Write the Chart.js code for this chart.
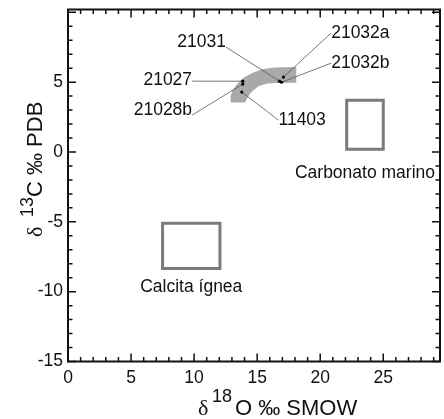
<!DOCTYPE html>
<html>
<head>
<meta charset="utf-8">
<script src="https://cdn.jsdelivr.net/npm/chart.js@4/dist/chart.umd.min.js"></script>
<style>
  html, body { margin: 0; padding: 0; background: #fff; }
  #wrap { width: 444px; height: 419px; }
</style>
</head>
<body>
<div id="wrap"><canvas id="isotopes" width="444" height="419"></canvas></div>
<script>
// samples: d18O (SMOW) on x, d13C (PDB) on y
const sampleNames = ['21031', '21032a', '21032b', '21027', '21028b', '11403'];
const sampleO = [16.77, 17.09, 16.93, 13.86, 13.86, 13.78];
const sampleC = [5.07, 5.36, 4.99, 5.07, 4.86, 4.29];

// where each label's leader line starts
const labelO = [12.52, 20.87, 20.87, 9.84, 9.84, 16.69];
const labelC = [7.51, 8.52, 6.36, 5.07, 2.64, 2.28];

// gray field around the samples (outline)
const fieldO = [12.9, 12.9, 13.05, 13.4, 13.9, 14.6, 15.4, 16.4, 18.1, 18.1, 16.5, 15.8, 15.1, 14.5, 14.2, 14.05];
const fieldC = [3.55, 4.0, 4.4, 4.85, 5.3, 5.65, 5.92, 6.05, 6.08, 4.95, 4.93, 4.9, 4.7, 4.25, 3.85, 3.55];

// reference fields
const boxNames = ['Carbonato marino', 'Calcita ígnea'];
const boxO = [[22.1, 25.0], [7.5, 12.05]];
const boxC = [[0.2, 3.7], [-8.35, -5.1]];
const boxLabelC = [-1.88, -10.05];

const xTicks = [0, 5, 10, 15, 20, 25];
const yTicks = [-15, -10, -5, 0, 5];

const pts = (xs, ys) => xs.map((v, i) => ({ x: v, y: ys[i] }));
const rect = (xr, yr) => [
  { x: xr[0], y: yr[0] }, { x: xr[1], y: yr[0] }, { x: xr[1], y: yr[1] },
  { x: xr[0], y: yr[1] }, { x: xr[0], y: yr[0] }
];

// text placement for sample labels (align, baseline shift in px)
const labelAlign = ['right', 'left', 'left', 'right', 'right', 'left'];
const labelDy = [0, 5, 5, 4, 0, 5];

const datasets = [];
datasets.push({
  data: pts(sampleO, sampleC), showLine: false,
  pointRadius: 1.6, pointBackgroundColor: '#000', pointBorderWidth: 0
});
sampleNames.forEach((n, i) => {
  datasets.push({
    data: [{ x: labelO[i], y: labelC[i] }, { x: sampleO[i], y: sampleC[i] }],
    showLine: true, borderColor: '#555', borderWidth: 0.8, pointRadius: 0
  });
});
boxNames.forEach((n, i) => {
  datasets.push({
    data: rect(boxO[i], boxC[i]), showLine: true,
    borderColor: '#7b7b7b', borderWidth: 3, borderCapStyle: 'square', pointRadius: 0
  });
});
datasets.push({
  data: pts(fieldO, fieldC), showLine: true, fill: 'shape',
  backgroundColor: '#a9a9a9', borderWidth: 0, pointRadius: 0
});

const decor = {
  id: 'decor',
  afterDatasetsDraw(chart) {
    const { ctx, chartArea: a, scales: { x, y } } = chart;
    ctx.save();

    // inward ticks on all four sides
    ctx.strokeStyle = '#111';
    ctx.lineWidth = 1.5;
    ctx.beginPath();
    for (let v = Math.ceil(x.min); v <= x.max; v++) {
      const p = x.getPixelForValue(v);
      const len = v % 5 === 0 ? 8 : 4.5;
      ctx.moveTo(p, a.bottom); ctx.lineTo(p, a.bottom - len);
      ctx.moveTo(p, a.top); ctx.lineTo(p, a.top + len);
    }
    for (let v = Math.ceil(y.min); v <= y.max; v++) {
      const p = y.getPixelForValue(v);
      const len = v % 5 === 0 ? 8 : 4.5;
      ctx.moveTo(a.left, p); ctx.lineTo(a.left + len, p);
      ctx.moveTo(a.right, p); ctx.lineTo(a.right - len, p);
    }
    ctx.stroke();

    ctx.lineWidth = 2;
    ctx.strokeRect(a.left, a.top, a.right - a.left, a.bottom - a.top);

    // sample labels
    ctx.fillStyle = '#111';
    ctx.font = '17.5px "Liberation Sans", Arial, sans-serif';
    ctx.textBaseline = 'alphabetic';
    sampleNames.forEach((n, i) => {
      ctx.textAlign = labelAlign[i];
      ctx.fillText(n, x.getPixelForValue(labelO[i]), y.getPixelForValue(labelC[i]) + labelDy[i]);
    });

    // field labels, centred under each box
    ctx.textAlign = 'center';
    boxNames.forEach((n, i) => {
      const cx = x.getPixelForValue((boxO[i][0] + boxO[i][1]) / 2);
      ctx.fillText(n, cx, y.getPixelForValue(boxLabelC[i]));
    });

    // axis titles with superscripts
    const main = '22px "Liberation Sans", Arial, sans-serif';
    const sup = '18px "Liberation Sans", Arial, sans-serif';
    const greek = '22px "Liberation Serif", "Times New Roman", serif';
    ctx.textAlign = 'left';

    ctx.font = greek; ctx.fillText('δ', 198, 415);
    ctx.font = sup; ctx.fillText('18', 212, 402);
    ctx.font = main; ctx.fillText('O ‰ SMOW', 235, 415);

    ctx.translate(42, 237);
    ctx.rotate(-Math.PI / 2);
    ctx.font = greek; ctx.fillText('δ', 0, 0);
    ctx.font = sup; ctx.fillText('13', 20, -9);
    ctx.font = main; ctx.fillText('C ‰ PDB', 40, 0);

    ctx.restore();
  }
};

const tickFont = { family: '"Liberation Sans", Arial, sans-serif', size: 17.5 };

new Chart(document.getElementById('isotopes').getContext('2d'), {
  type: 'scatter',
  data: { datasets },
  options: {
    responsive: false,
    animation: false,
    devicePixelRatio: 1,
    layout: { padding: { top: 9.5, right: 1, left: 0, bottom: 0 } },
    plugins: { legend: { display: false }, tooltip: { enabled: false } },
    scales: {
      x: {
        type: 'linear', position: 'bottom', min: 0, max: 29.5,
        afterFit: s => { s.height = 57.5; s.paddingLeft = 0; s.paddingRight = 0; },
        grid: { display: false, drawTicks: false },
        border: { display: false },
        ticks: {
          stepSize: 1, autoSkip: false, maxRotation: 0, padding: 6,
          color: '#111', font: tickFont,
          callback: v => xTicks.includes(v) ? String(v) : null
        }
      },
      y: {
        type: 'linear', min: -15, max: 10.2,
        afterFit: s => { s.width = 68; s.paddingTop = 0; s.paddingBottom = 0; },
        grid: { display: false, drawTicks: false },
        border: { display: false },
        ticks: {
          stepSize: 1, autoSkip: false, padding: 5,
          color: '#111', font: tickFont,
          callback: v => yTicks.includes(v) ? String(v) : null
        }
      }
    }
  },
  plugins: [decor]
});
</script>
</body>
</html>
